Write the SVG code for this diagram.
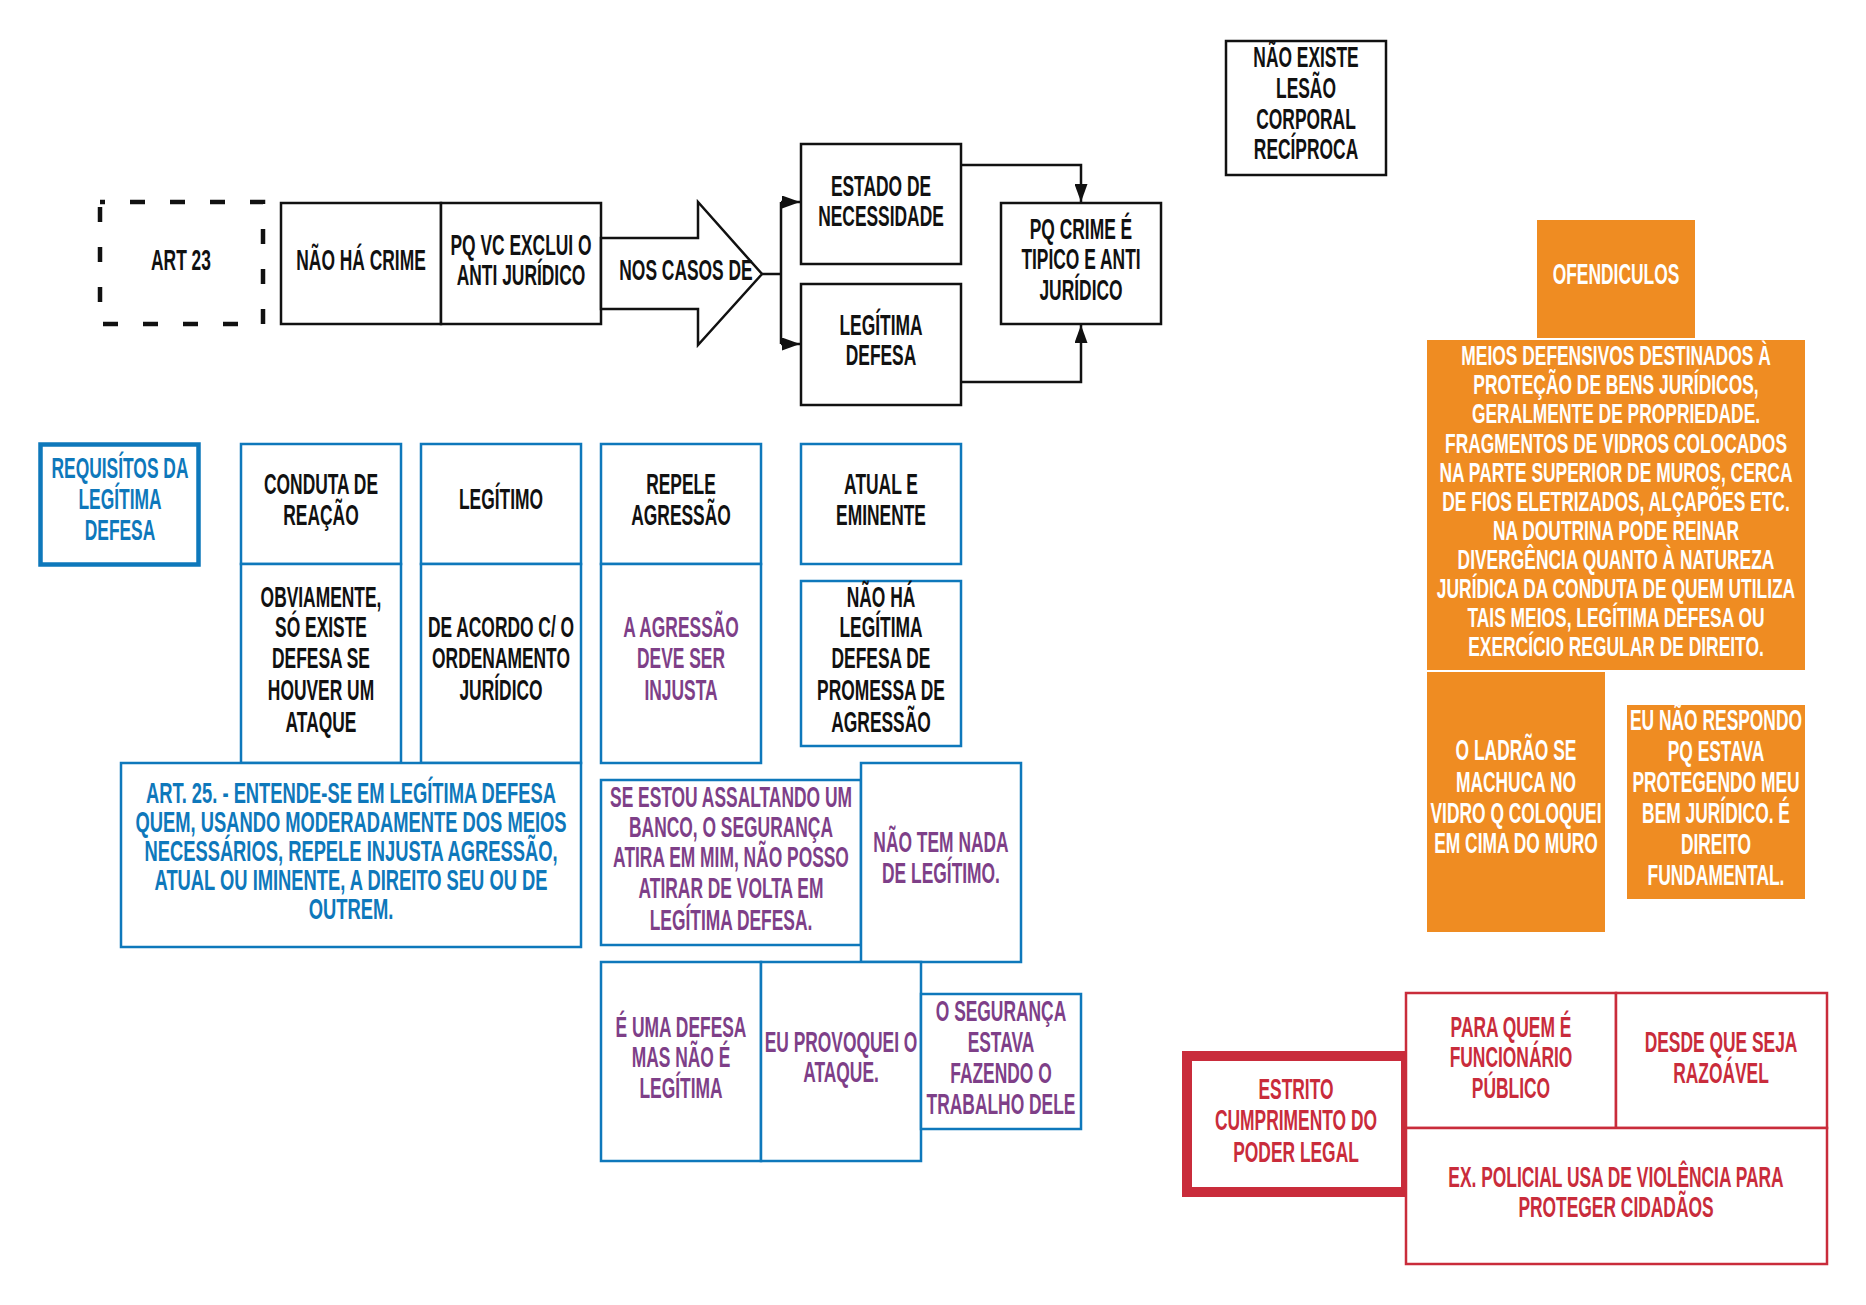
<svg xmlns="http://www.w3.org/2000/svg" width="1866" height="1305" viewBox="0 0 1866 1305">
<defs>
<style>
.t{font-family:"Liberation Sans",Arial,sans-serif;font-weight:bold;font-size:29px;text-anchor:middle}
.s{font-size:27px}
.k{fill:#111}
.b{fill:#0e78bb}
.p{fill:#7e3f88}
.w{fill:#ffffff}
.r{fill:#c92c3b}
.bx{fill:#fff;stroke:#111;stroke-width:2.5}
.bb{fill:#fff;stroke:#0e78bb;stroke-width:2.5}
.ob{fill:#ef8c22;stroke:none}
.rb{fill:#fff;stroke:#c92c3b;stroke-width:2.5}
.cn{fill:none;stroke:#111;stroke-width:2.5}
</style>
<marker id="ah" viewBox="0 0 10 10" refX="10" refY="5" markerWidth="18" markerHeight="13" markerUnits="userSpaceOnUse" orient="auto" preserveAspectRatio="none">
<path d="M0,0 L10,5 L0,10 z" fill="#111"/>
</marker>
</defs>
<rect width="1866" height="1305" fill="#fff"/>

<g id="connectors">
<path class="cn" d="M762,274 H781 M781,202 V344"/>
<path class="cn" d="M781,202 H800" marker-end="url(#ah)"/>
<path class="cn" d="M781,344 H800" marker-end="url(#ah)"/>
<path class="cn" d="M961,165 H1081 V202" marker-end="url(#ah)"/>
<path class="cn" d="M961,382 H1081 V325" marker-end="url(#ah)"/>
</g>

<g id="art23">
<rect x="100" y="202" width="163" height="122" fill="#fff" stroke="#111" stroke-width="4.5" stroke-dasharray="15 25" stroke-dashoffset="10"/>
<text class="t k" transform="matrix(0.6 0 0 1 181 0)"><tspan x="0" y="270">ART 23</tspan></text>
</g>

<g id="nao-ha-crime">
<rect class="bx" x="281" y="203" width="160" height="121"/>
<text class="t k" transform="matrix(0.6 0 0 1 361 0)"><tspan x="0" y="270">NÃO HÁ CRIME</tspan></text>
</g>

<g id="pq-vc-exclui">
<rect class="bx" x="441" y="203" width="160" height="121"/>
<text class="t k" transform="matrix(0.6 0 0 1 521 0)"><tspan x="0" y="255">PQ VC EXCLUI O</tspan><tspan x="0" y="285">ANTI JURÍDICO</tspan></text>
</g>

<g id="nos-casos-de">
<polygon points="601,238 698,238 698,202 762,274 698,345 698,309 601,309" fill="#fff" stroke="#111" stroke-width="2.5" stroke-linejoin="miter"/>
<text class="t k" transform="matrix(0.6 0 0 1 686 0)"><tspan x="0" y="280">NOS CASOS DE</tspan></text>
</g>

<g id="estado-de-necessidade">
<rect class="bx" x="801" y="144" width="160" height="120"/>
<text class="t k" transform="matrix(0.6 0 0 1 881 0)"><tspan x="0" y="196">ESTADO DE</tspan><tspan x="0" y="226">NECESSIDADE</tspan></text>
</g>

<g id="legitima-defesa">
<rect class="bx" x="801" y="284" width="160" height="121"/>
<text class="t k" transform="matrix(0.6 0 0 1 881 0)"><tspan x="0" y="335">LEGÍTIMA</tspan><tspan x="0" y="365">DEFESA</tspan></text>
</g>

<g id="pq-crime">
<rect class="bx" x="1001" y="203" width="160" height="121"/>
<text class="t k" transform="matrix(0.6 0 0 1 1081 0)"><tspan x="0" y="239">PQ CRIME É</tspan><tspan x="0" y="269">TIPICO E ANTI</tspan><tspan x="0" y="300">JURÍDICO</tspan></text>
</g>

<g id="nao-existe">
<rect class="bx" x="1226" y="41" width="160" height="134"/>
<text class="t k" transform="matrix(0.6 0 0 1 1306 0)"><tspan x="0" y="67">NÃO EXISTE</tspan><tspan x="0" y="98">LESÃO</tspan><tspan x="0" y="129">CORPORAL</tspan><tspan x="0" y="159">RECÍPROCA</tspan></text>
</g>

<g id="requisitos">
<rect x="40.5" y="444.5" width="158" height="120" fill="#fff" stroke="#0e78bb" stroke-width="4.5"/>
<text class="t b" transform="matrix(0.6 0 0 1 120 0)"><tspan x="0" y="478">REQUISÍTOS DA</tspan><tspan x="0" y="509">LEGÍTIMA</tspan><tspan x="0" y="540">DEFESA</tspan></text>
</g>

<g id="conduta-de-reacao">
<rect class="bb" x="241" y="444" width="160" height="120"/>
<text class="t k" transform="matrix(0.6 0 0 1 321 0)"><tspan x="0" y="494">CONDUTA DE</tspan><tspan x="0" y="525">REAÇÃO</tspan></text>
</g>
<g id="obviamente">
<rect class="bb" x="241" y="564" width="160" height="199"/>
<text class="t k" transform="matrix(0.6 0 0 1 321 0)"><tspan x="0" y="607">OBVIAMENTE,</tspan><tspan x="0" y="637">SÓ EXISTE</tspan><tspan x="0" y="668">DEFESA SE</tspan><tspan x="0" y="700">HOUVER UM</tspan><tspan x="0" y="732">ATAQUE</tspan></text>
</g>

<g id="legitimo">
<rect class="bb" x="421" y="444" width="160" height="120"/>
<text class="t k" transform="matrix(0.6 0 0 1 501 0)"><tspan x="0" y="509">LEGÍTIMO</tspan></text>
</g>
<g id="de-acordo">
<rect class="bb" x="421" y="564" width="160" height="199"/>
<text class="t k" transform="matrix(0.6 0 0 1 501 0)"><tspan x="0" y="637">DE ACORDO C/ O</tspan><tspan x="0" y="668">ORDENAMENTO</tspan><tspan x="0" y="700">JURÍDICO</tspan></text>
</g>

<g id="repele-agressao">
<rect class="bb" x="601" y="444" width="160" height="120"/>
<text class="t k" transform="matrix(0.6 0 0 1 681 0)"><tspan x="0" y="494">REPELE</tspan><tspan x="0" y="525">AGRESSÃO</tspan></text>
</g>
<g id="agressao-injusta">
<rect class="bb" x="601" y="564" width="160" height="199"/>
<text class="t p" transform="matrix(0.6 0 0 1 681 0)"><tspan x="0" y="637">A AGRESSÃO</tspan><tspan x="0" y="668">DEVE SER</tspan><tspan x="0" y="700">INJUSTA</tspan></text>
</g>

<g id="atual-eminente">
<rect class="bb" x="801" y="444" width="160" height="120"/>
<text class="t k" transform="matrix(0.6 0 0 1 881 0)"><tspan x="0" y="494">ATUAL E</tspan><tspan x="0" y="525">EMINENTE</tspan></text>
</g>
<g id="nao-ha-legitima">
<rect class="bb" x="801" y="581" width="160" height="165"/>
<text class="t k" transform="matrix(0.6 0 0 1 881 0)"><tspan x="0" y="607">NÃO HÁ</tspan><tspan x="0" y="637">LEGÍTIMA</tspan><tspan x="0" y="668">DEFESA DE</tspan><tspan x="0" y="700">PROMESSA DE</tspan><tspan x="0" y="732">AGRESSÃO</tspan></text>
</g>

<g id="art25">
<rect class="bb" x="121" y="763" width="460" height="184"/>
<text class="t b" transform="matrix(0.633 0 0 1 351 0)"><tspan x="0" y="803">ART. 25. - ENTENDE-SE EM LEGÍTIMA DEFESA</tspan><tspan x="0" y="832">QUEM, USANDO MODERADAMENTE DOS MEIOS</tspan><tspan x="0" y="861">NECESSÁRIOS, REPELE INJUSTA AGRESSÃO,</tspan><tspan x="0" y="890">ATUAL OU IMINENTE, A DIREITO SEU OU DE</tspan><tspan x="0" y="919">OUTREM.</tspan></text>
</g>

<g id="se-estou">
<rect class="bb" x="601" y="780" width="260" height="165"/>
<text class="t p" transform="matrix(0.6 0 0 1 731 0)"><tspan x="0" y="807">SE ESTOU ASSALTANDO UM</tspan><tspan x="0" y="837">BANCO, O SEGURANÇA</tspan><tspan x="0" y="867">ATIRA EM MIM, NÃO POSSO</tspan><tspan x="0" y="898">ATIRAR DE VOLTA EM</tspan><tspan x="0" y="930">LEGÍTIMA DEFESA.</tspan></text>
</g>

<g id="nao-tem-nada">
<rect class="bb" x="861" y="763" width="160" height="199"/>
<text class="t p" transform="matrix(0.6 0 0 1 941 0)"><tspan x="0" y="852">NÃO TEM NADA</tspan><tspan x="0" y="883">DE LEGÍTIMO.</tspan></text>
</g>

<g id="e-uma-defesa">
<rect class="bb" x="601" y="962" width="160" height="199"/>
<text class="t p" transform="matrix(0.6 0 0 1 681 0)"><tspan x="0" y="1037">É UMA DEFESA</tspan><tspan x="0" y="1067">MAS NÃO É</tspan><tspan x="0" y="1098">LEGÍTIMA</tspan></text>
</g>

<g id="eu-provoquei">
<rect class="bb" x="761" y="962" width="160" height="199"/>
<text class="t p" transform="matrix(0.6 0 0 1 841 0)"><tspan x="0" y="1052">EU PROVOQUEI O</tspan><tspan x="0" y="1082">ATAQUE.</tspan></text>
</g>

<g id="o-seguranca">
<rect class="bb" x="921" y="994" width="160" height="135"/>
<text class="t p" transform="matrix(0.6 0 0 1 1001 0)"><tspan x="0" y="1021">O SEGURANÇA</tspan><tspan x="0" y="1052">ESTAVA</tspan><tspan x="0" y="1083">FAZENDO O</tspan><tspan x="0" y="1114">TRABALHO DELE</tspan></text>
</g>

<g id="ofendiculos">
<rect class="ob" x="1537" y="220" width="158" height="118"/>
<text class="t w" transform="matrix(0.6 0 0 1 1616 0)"><tspan x="0" y="284">OFENDICULOS</tspan></text>
</g>

<g id="meios-defensivos">
<rect class="ob" x="1427" y="340" width="378" height="330"/>
<text class="t s w" transform="matrix(0.645 0 0 1 1616 0)"><tspan x="0" y="365">MEIOS DEFENSIVOS DESTINADOS À</tspan><tspan x="0" y="394">PROTEÇÃO DE BENS JURÍDICOS,</tspan><tspan x="0" y="423">GERALMENTE DE PROPRIEDADE.</tspan><tspan x="0" y="453">FRAGMENTOS DE VIDROS COLOCADOS</tspan><tspan x="0" y="482">NA PARTE SUPERIOR DE MUROS, CERCA</tspan><tspan x="0" y="511">DE FIOS ELETRIZADOS, ALÇAPÕES ETC.</tspan><tspan x="0" y="540">NA DOUTRINA PODE REINAR</tspan><tspan x="0" y="569">DIVERGÊNCIA QUANTO À NATUREZA</tspan><tspan x="0" y="598">JURÍDICA DA CONDUTA DE QUEM UTILIZA</tspan><tspan x="0" y="627">TAIS MEIOS, LEGÍTIMA DEFESA OU</tspan><tspan x="0" y="656">EXERCÍCIO REGULAR DE DIREITO.</tspan></text>
</g>

<g id="o-ladrao">
<rect class="ob" x="1427" y="672" width="178" height="260"/>
<text class="t w" transform="matrix(0.6 0 0 1 1516 0)"><tspan x="0" y="760">O LADRÃO SE</tspan><tspan x="0" y="792">MACHUCA NO</tspan><tspan x="0" y="823">VIDRO Q COLOQUEI</tspan><tspan x="0" y="853">EM CIMA DO MURO</tspan></text>
</g>

<g id="eu-nao-respondo">
<rect class="ob" x="1627" y="705" width="178" height="194"/>
<text class="t w" transform="matrix(0.6 0 0 1 1716 0)"><tspan x="0" y="730">EU NÃO RESPONDO</tspan><tspan x="0" y="761">PQ ESTAVA</tspan><tspan x="0" y="792">PROTEGENDO MEU</tspan><tspan x="0" y="823">BEM JURÍDICO. É</tspan><tspan x="0" y="854">DIREITO</tspan><tspan x="0" y="885">FUNDAMENTAL.</tspan></text>
</g>

<g id="estrito-cumprimento">
<rect x="1187" y="1056" width="219" height="136" fill="#fff" stroke="#c92c3b" stroke-width="10"/>
<text class="t r" transform="matrix(0.6 0 0 1 1296 0)"><tspan x="0" y="1099">ESTRITO</tspan><tspan x="0" y="1130">CUMPRIMENTO DO</tspan><tspan x="0" y="1162">PODER LEGAL</tspan></text>
</g>

<g id="para-quem">
<rect class="rb" x="1406" y="993" width="210" height="135"/>
<text class="t r" transform="matrix(0.6 0 0 1 1511 0)"><tspan x="0" y="1037">PARA QUEM É</tspan><tspan x="0" y="1067">FUNCIONÁRIO</tspan><tspan x="0" y="1098">PÚBLICO</tspan></text>
</g>

<g id="desde-que">
<rect class="rb" x="1616" y="993" width="211" height="135"/>
<text class="t r" transform="matrix(0.6 0 0 1 1721 0)"><tspan x="0" y="1052">DESDE QUE SEJA</tspan><tspan x="0" y="1083">RAZOÁVEL</tspan></text>
</g>

<g id="ex-policial">
<rect class="rb" x="1406" y="1128" width="421" height="136"/>
<text class="t r" transform="matrix(0.6 0 0 1 1616 0)"><tspan x="0" y="1187">EX. POLICIAL USA DE VIOLÊNCIA PARA</tspan><tspan x="0" y="1217">PROTEGER CIDADÃOS</tspan></text>
</g>
</svg>
